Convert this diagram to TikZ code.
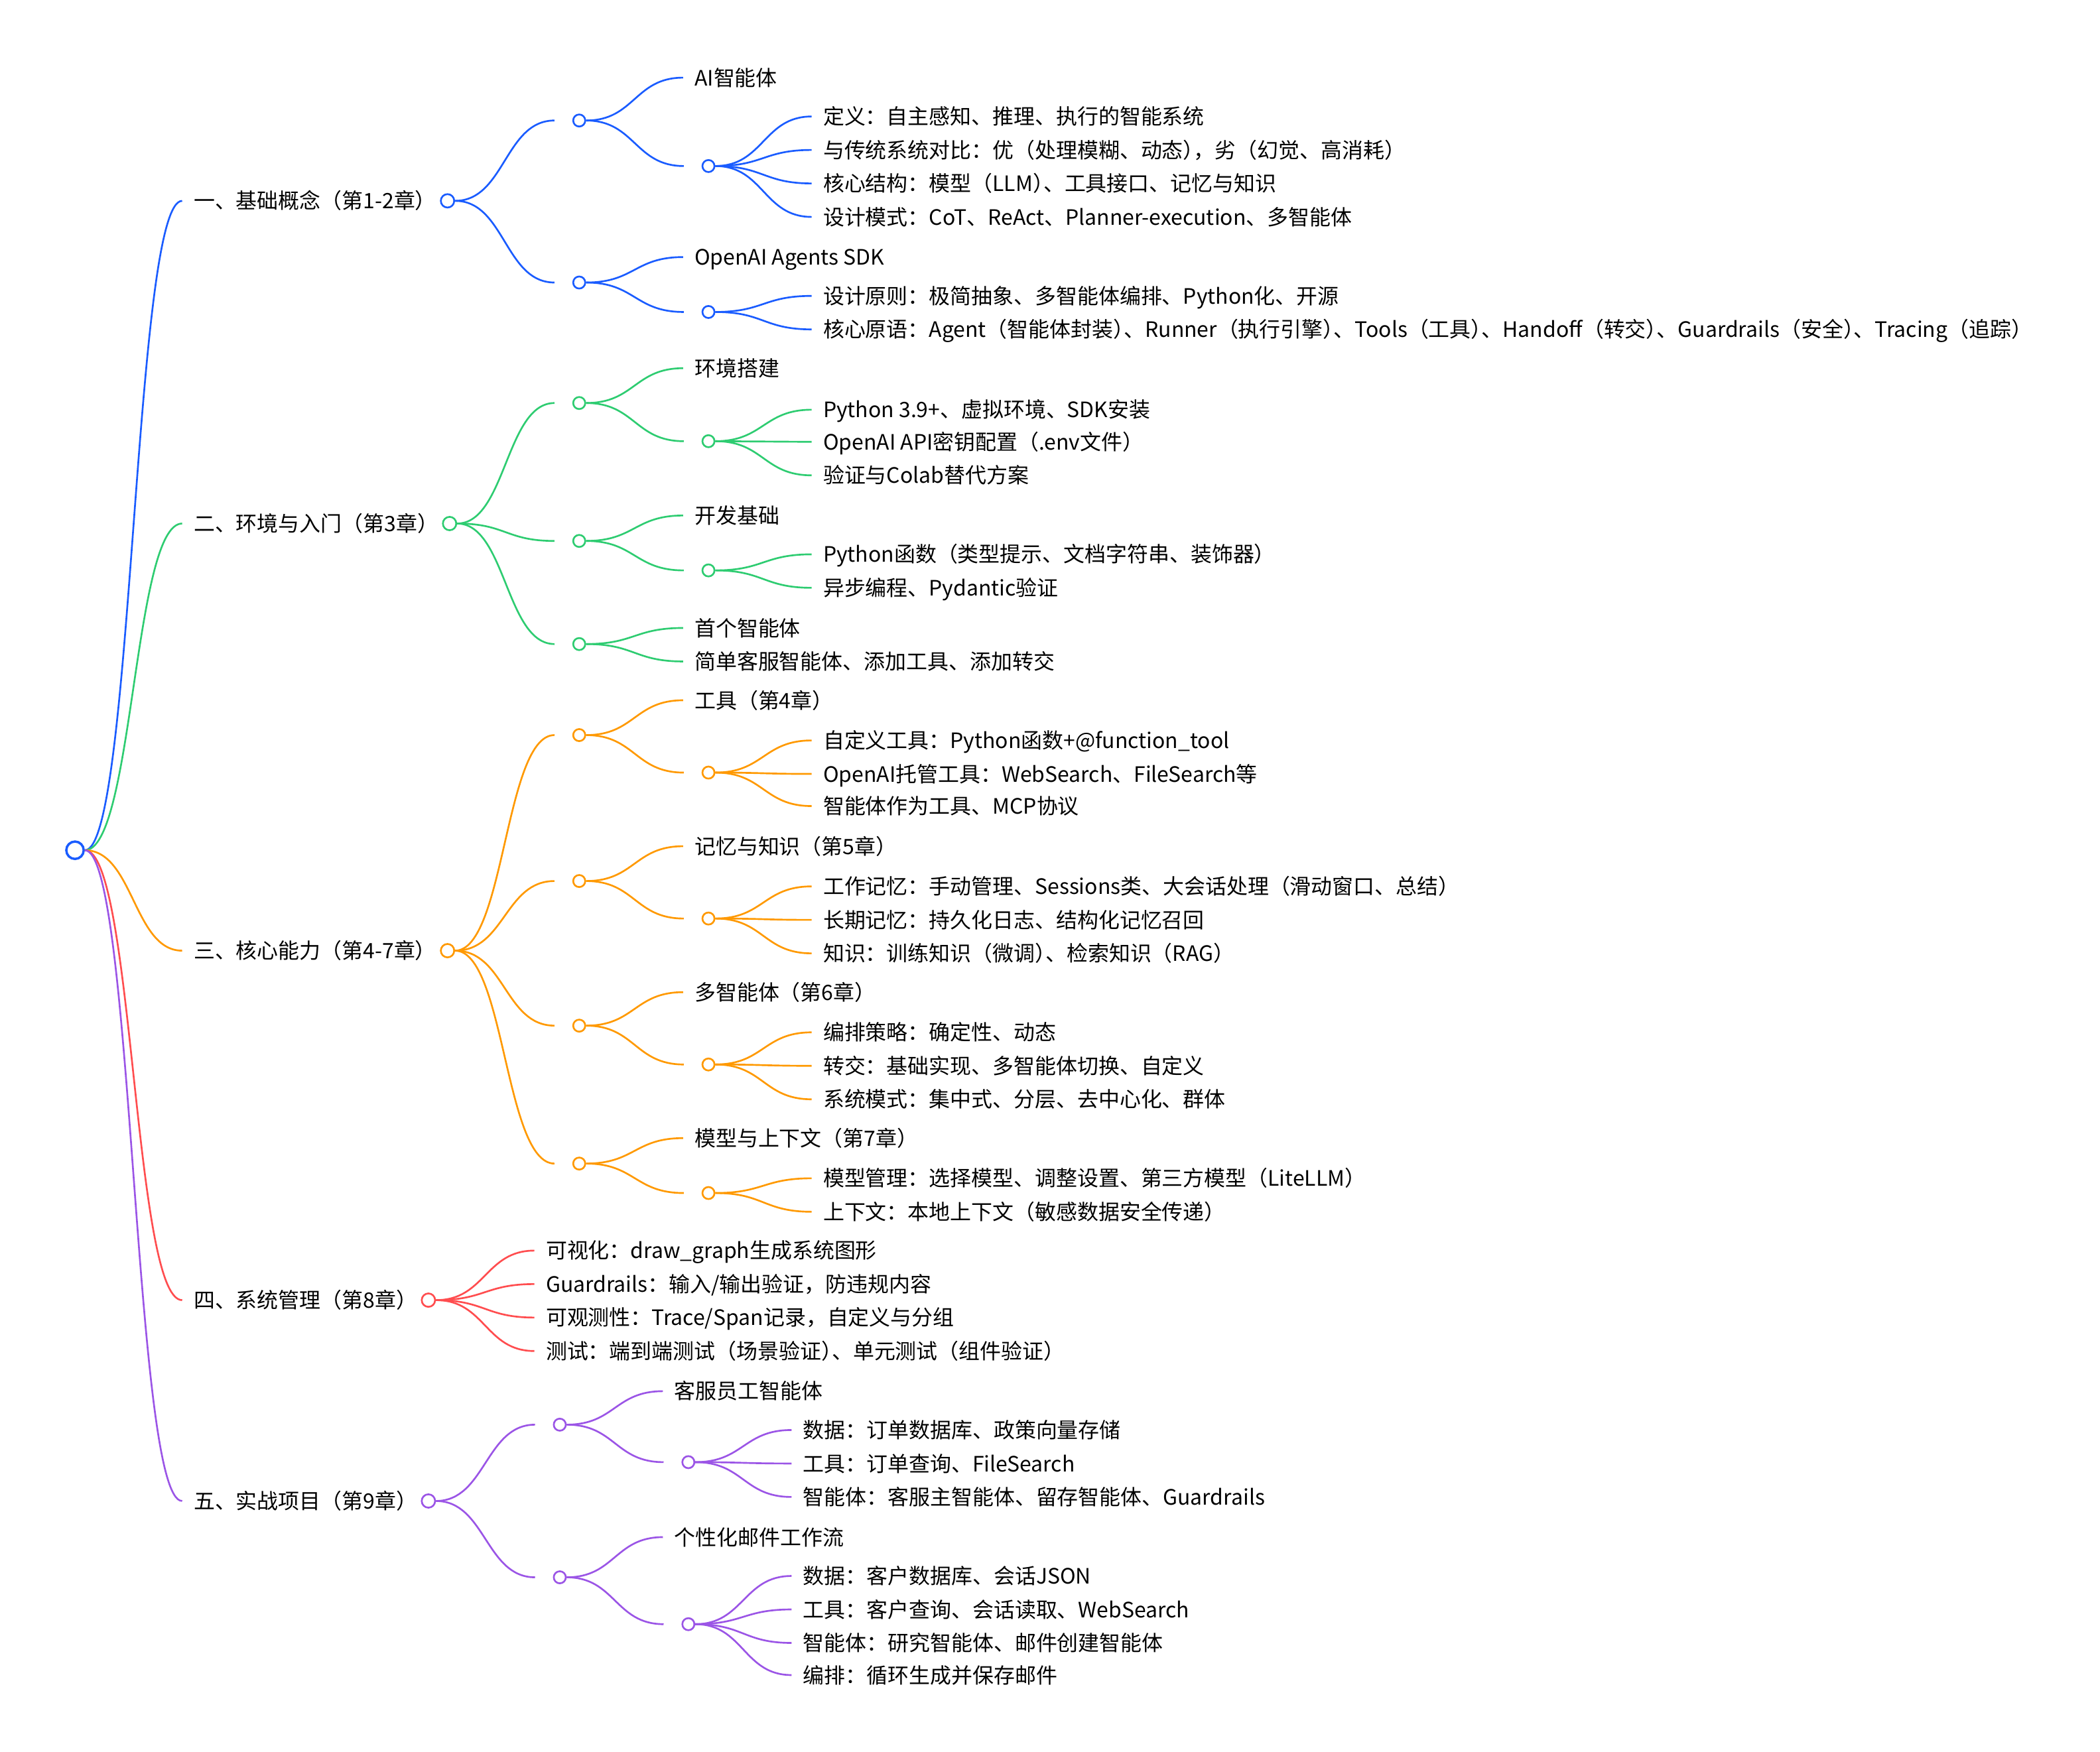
\documentclass[tikz,border=0pt]{standalone}
\usepackage{fontspec}
\setmainfont{Noto Sans CJK SC}
\usepackage{tikz}
\usetikzlibrary{calc}

\definecolor{cBlue}{HTML}{1A5CFF}
\definecolor{cGreen}{HTML}{2ECC71}
\definecolor{cOrange}{HTML}{FF9900}
\definecolor{cRed}{HTML}{FF4D4F}
\definecolor{cPurple}{HTML}{9B55E6}

\newcommand{\rp}{）\kern-.5em}
\newcommand{\lnk}[2]{\draw let \p1=(#1), \p2=(#2) in (\p1) .. controls ({0.5*\x1+0.5*\x2},\y1) and ({0.5*\x1+0.5*\x2},\y2) .. (\p2);}

\begin{document}
\begin{tikzpicture}
      [x=0.02cm,y=-0.02cm,line width=0.75pt,
       txt/.style={anchor=west,inner xsep=0.16cm,inner ysep=0pt,text height=8pt,text depth=1.2pt,text=black,font=\fontsize{9pt}{11pt}\selectfont},
       hub/.style={anchor=west,minimum width=0.24cm,minimum height=0pt,inner sep=0pt},
       dot/.style={circle,draw,fill=white,anchor=west,minimum size=0.18cm,inner sep=0pt},
       ldot/.style={dot,minimum size=0.2cm,xshift=-0.12cm}]
        \useasboundingbox (0,0) rectangle (1568,1308);
        \node[dot,anchor=center,minimum size=0.26cm,line width=1pt,draw=cBlue] (root) at (56,635) {};

      \begin{scope}[color=cBlue]
        \node[txt] (jc) at (136,150) {一、基础概念（第1-2章）};
        \node[ldot] (jco) at (jc.east) {};
        \node[hub] (jc1) at (414,90) {};
        \node[dot] (jc1o) at (jc1.east) {};
        \node[txt] (ai) at (510,58) {AI智能体};
        \node[hub] (ai1) at (510.5,124) {};
        \node[dot] (ai1o) at (ai1.east) {};
        \node[txt] (ai11) at (606,87) {定义：自主感知、推理、执行的智能系统};
        \node[txt] (ai12) at (606,112) {与传统系统对比：优（处理模糊、动态\rp{}，劣（幻觉、高消耗）};
        \node[txt] (ai13) at (606,137) {核心结构：模型（LLM\rp{}、工具接口、记忆与知识};
        \node[txt] (ai14) at (606,162) {设计模式：CoT、ReAct、Planner-execution、多智能体};
        \node[hub] (jc2) at (414,211) {};
        \node[dot] (jc2o) at (jc2.east) {};
        \node[txt] (sdk) at (510,192) {OpenAI Agents SDK};
        \node[hub] (sdk1) at (510.5,233) {};
        \node[dot] (sdk1o) at (sdk1.east) {};
        \node[txt] (sdk11) at (606,221) {设计原则：极简抽象、多智能体编排、Python化、开源};
        \node[txt] (sdk12) at (606,246) {核心原语：Agent（智能体封装\rp{}、Runner（执行引擎\rp{}、Tools（工具\rp{}、Handoff（转交\rp{}、Guardrails（安全\rp{}、Tracing（追踪）};

        \lnk{root.east}{jc.west}
        \lnk{jco.east}{jc1.west}
        \lnk{jco.east}{jc2.west}
        \lnk{jc1o.east}{ai.west}
        \lnk{jc1o.east}{ai1.west}
        \lnk{ai1o.east}{ai11.west}
        \lnk{ai1o.east}{ai12.west}
        \lnk{ai1o.east}{ai13.west}
        \lnk{ai1o.east}{ai14.west}
        \lnk{jc2o.east}{sdk.west}
        \lnk{jc2o.east}{sdk1.west}
        \lnk{sdk1o.east}{sdk11.west}
        \lnk{sdk1o.east}{sdk12.west}
      \end{scope}

      \begin{scope}[color=cGreen]
        \node[txt] (hj) at (136,391) {二、环境与入门（第3章）};
        \node[ldot] (hjo) at (hj.east) {};
        \node[hub] (hj1) at (414,301) {};
        \node[dot] (hj1o) at (hj1.east) {};
        \node[txt] (dj) at (510,275) {环境搭建};
        \node[hub] (dj1) at (510.5,329.5) {};
        \node[dot] (dj1o) at (dj1.east) {};
        \node[txt] (dj11) at (606,306) {Python 3.9+、虚拟环境、SDK安装};
        \node[txt] (dj12) at (606,330) {OpenAI API密钥配置（.env文件）};
        \node[txt] (dj13) at (606,355) {验证与Colab替代方案};
        \node[hub] (hj2) at (414,404) {};
        \node[dot] (hj2o) at (hj2.east) {};
        \node[txt] (kf) at (510,385) {开发基础};
        \node[hub] (kf1) at (510.5,426) {};
        \node[dot] (kf1o) at (kf1.east) {};
        \node[txt] (kf11) at (606,414) {Python函数（类型提示、文档字符串、装饰器）};
        \node[txt] (kf12) at (606,439) {异步编程、Pydantic验证};
        \node[hub] (hj3) at (414,481) {};
        \node[dot] (hj3o) at (hj3.east) {};
        \node[txt] (sg1) at (510,469) {首个智能体};
        \node[txt] (sg2) at (510,494) {简单客服智能体、添加工具、添加转交};

        \lnk{root.east}{hj.west}
        \lnk{hjo.east}{hj1.west}
        \lnk{hjo.east}{hj2.west}
        \lnk{hjo.east}{hj3.west}
        \lnk{hj1o.east}{dj.west}
        \lnk{hj1o.east}{dj1.west}
        \lnk{dj1o.east}{dj11.west}
        \lnk{dj1o.east}{dj12.west}
        \lnk{dj1o.east}{dj13.west}
        \lnk{hj2o.east}{kf.west}
        \lnk{hj2o.east}{kf1.west}
        \lnk{kf1o.east}{kf11.west}
        \lnk{kf1o.east}{kf12.west}
        \lnk{hj3o.east}{sg1.west}
        \lnk{hj3o.east}{sg2.west}
      \end{scope}

      \begin{scope}[color=cOrange]
        \node[txt] (hx) at (136,710) {三、核心能力（第4-7章）};
        \node[ldot] (hxo) at (hx.east) {};
        \node[hub] (hx1) at (414,549) {};
        \node[dot] (hx1o) at (hx1.east) {};
        \node[txt] (gj) at (510,523) {工具（第4章）};
        \node[hub] (gj1) at (510.5,577) {};
        \node[dot] (gj1o) at (gj1.east) {};
        \node[txt] (gj11) at (606,553) {自定义工具：Python函数+@function\_tool};
        \node[txt] (gj12) at (606,578) {OpenAI托管工具：WebSearch、FileSearch等};
        \node[txt] (gj13) at (606,602) {智能体作为工具、MCP协议};
        \node[hub] (hx2) at (414,658) {};
        \node[dot] (hx2o) at (hx2.east) {};
        \node[txt] (jy) at (510,632) {记忆与知识（第5章）};
        \node[hub] (jy1) at (510.5,686) {};
        \node[dot] (jy1o) at (jy1.east) {};
        \node[txt] (jy11) at (606,662) {工作记忆：手动管理、Sessions类、大会话处理（滑动窗口、总结）};
        \node[txt] (jy12) at (606,687) {长期记忆：持久化日志、结构化记忆召回};
        \node[txt] (jy13) at (606,712) {知识：训练知识（微调\rp{}、检索知识（RAG）};
        \node[hub] (hx3) at (414,766) {};
        \node[dot] (hx3o) at (hx3.east) {};
        \node[txt] (dz) at (510,741) {多智能体（第6章）};
        \node[hub] (dz1) at (510.5,795) {};
        \node[dot] (dz1o) at (dz1.east) {};
        \node[txt] (dz11) at (606,771) {编排策略：确定性、动态};
        \node[txt] (dz12) at (606,796) {转交：基础实现、多智能体切换、自定义};
        \node[txt] (dz13) at (606,821) {系统模式：集中式、分层、去中心化、群体};
        \node[hub] (hx4) at (414,869) {};
        \node[dot] (hx4o) at (hx4.east) {};
        \node[txt] (mx) at (510,850) {模型与上下文（第7章）};
        \node[hub] (mx1) at (510.5,891) {};
        \node[dot] (mx1o) at (mx1.east) {};
        \node[txt] (mx11) at (606,880) {模型管理：选择模型、调整设置、第三方模型（LiteLLM）};
        \node[txt] (mx12) at (606,905) {上下文：本地上下文（敏感数据安全传递）};

        \lnk{root.east}{hx.west}
        \lnk{hxo.east}{hx1.west}
        \lnk{hxo.east}{hx2.west}
        \lnk{hxo.east}{hx3.west}
        \lnk{hxo.east}{hx4.west}
        \lnk{hx1o.east}{gj.west}
        \lnk{hx1o.east}{gj1.west}
        \lnk{gj1o.east}{gj11.west}
        \lnk{gj1o.east}{gj12.west}
        \lnk{gj1o.east}{gj13.west}
        \lnk{hx2o.east}{jy.west}
        \lnk{hx2o.east}{jy1.west}
        \lnk{jy1o.east}{jy11.west}
        \lnk{jy1o.east}{jy12.west}
        \lnk{jy1o.east}{jy13.west}
        \lnk{hx3o.east}{dz.west}
        \lnk{hx3o.east}{dz1.west}
        \lnk{dz1o.east}{dz11.west}
        \lnk{dz1o.east}{dz12.west}
        \lnk{dz1o.east}{dz13.west}
        \lnk{hx4o.east}{mx.west}
        \lnk{hx4o.east}{mx1.west}
        \lnk{mx1o.east}{mx11.west}
        \lnk{mx1o.east}{mx12.west}
      \end{scope}

      \begin{scope}[color=cRed]
        \node[txt] (xt) at (136,971) {四、系统管理（第8章）};
        \node[ldot] (xto) at (xt.east) {};
        \node[txt] (xt1) at (399,934) {可视化：draw\_graph生成系统图形};
        \node[txt] (xt2) at (399,959) {Guardrails：输入/输出验证，防违规内容};
        \node[txt] (xt3) at (399,984) {可观测性：Trace/Span记录，自定义与分组};
        \node[txt] (xt4) at (399,1009) {测试：端到端测试（场景验证\rp{}、单元测试（组件验证）};

        \lnk{root.east}{xt.west}
        \lnk{xto.east}{xt1.west}
        \lnk{xto.east}{xt2.west}
        \lnk{xto.east}{xt3.west}
        \lnk{xto.east}{xt4.west}
      \end{scope}

      \begin{scope}[color=cPurple]
        \node[txt] (sz) at (136,1121) {五、实战项目（第9章）};
        \node[ldot] (szo) at (sz.east) {};
        \node[hub] (sz1) at (399.5,1064) {};
        \node[dot] (sz1o) at (sz1.east) {};
        \node[txt] (kf) at (495,1039) {客服员工智能体};
        \node[hub] (kfa) at (495.5,1092) {};
        \node[dot] (kfao) at (kfa.east) {};
        \node[txt] (kfa1) at (591,1068) {数据：订单数据库、政策向量存储};
        \node[txt] (kfa2) at (591,1093) {工具：订单查询、FileSearch};
        \node[txt] (kfa3) at (591,1118) {智能体：客服主智能体、留存智能体、Guardrails};
        \node[hub] (sz2) at (399.5,1178) {};
        \node[dot] (sz2o) at (sz2.east) {};
        \node[txt] (yj) at (495,1148) {个性化邮件工作流};
        \node[hub] (yja) at (495.5,1213) {};
        \node[dot] (yjao) at (yja.east) {};
        \node[txt] (yja1) at (591,1177) {数据：客户数据库、会话JSON};
        \node[txt] (yja2) at (591,1202) {工具：客户查询、会话读取、WebSearch};
        \node[txt] (yja3) at (591,1227) {智能体：研究智能体、邮件创建智能体};
        \node[txt] (yja4) at (591,1251) {编排：循环生成并保存邮件};

        \lnk{root.east}{sz.west}
        \lnk{szo.east}{sz1.west}
        \lnk{szo.east}{sz2.west}
        \lnk{sz1o.east}{kf.west}
        \lnk{sz1o.east}{kfa.west}
        \lnk{kfao.east}{kfa1.west}
        \lnk{kfao.east}{kfa2.west}
        \lnk{kfao.east}{kfa3.west}
        \lnk{sz2o.east}{yj.west}
        \lnk{sz2o.east}{yja.west}
        \lnk{yjao.east}{yja1.west}
        \lnk{yjao.east}{yja2.west}
        \lnk{yjao.east}{yja3.west}
        \lnk{yjao.east}{yja4.west}
      \end{scope}

      \end{tikzpicture}
\end{document}
